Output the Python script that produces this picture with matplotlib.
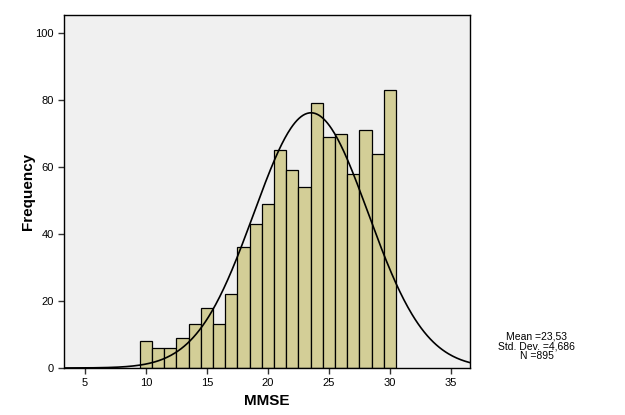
import numpy as np
import matplotlib
matplotlib.use("Agg")
import matplotlib.pyplot as plt

plt.rcParams['font.family'] = ['Liberation Sans', 'DejaVu Sans']

scores = [10, 11, 12, 13, 14, 15, 16, 17, 18, 19, 20, 21, 22, 23, 24, 25, 26, 27, 28, 29, 30]
counts = [8, 6, 6, 9, 13, 18, 13, 22, 36, 43, 49, 65, 59, 54, 79, 69, 70, 58, 71, 64, 83]
mean = 23.53
std = 4.686
n = 895
xticks = [5, 10, 15, 20, 25, 30, 35]
yticks = [0, 20, 40, 60, 80, 100]

fig = plt.figure(figsize=(6.25, 4.15), dpi=100)
ax = fig.add_axes([0.1024, 0.1133, 0.6496, 0.8506])
ax.set_facecolor('#F0F0F0')

ax.bar(scores, counts, width=1.0, color='#D3CE97', edgecolor='black', linewidth=0.9, zorder=2)

xs = np.linspace(3.28, 36.56, 400)
ys = n * 1.0 * np.exp(-0.5 * ((xs - mean) / std) ** 2) / (std * np.sqrt(2 * np.pi))
ax.plot(xs, ys, color='black', linewidth=1.2, zorder=3)

ax.set_xlim(3.28, 36.56)
ax.set_ylim(0, 105.4)
ax.set_xticks(xticks)
ax.set_yticks(yticks)
ax.tick_params(axis='both', direction='out', length=4, width=1, labelsize=8, color='#333333')
for s in ax.spines.values():
    s.set_color('black')
    s.set_linewidth(1)

ax.set_xlabel('MMSE', fontsize=11, fontweight='bold', labelpad=4)
ax.set_ylabel('Frequency', fontsize=11, fontweight='bold', labelpad=0)

fig.text(0.859, 0.166, 'Mean =23,53\nStd. Dev. =4,686\nN =895', ha='center', va='center',
         fontsize=7.5, linespacing=1.0)

fig.savefig('out.png', dpi=100, facecolor='white')
